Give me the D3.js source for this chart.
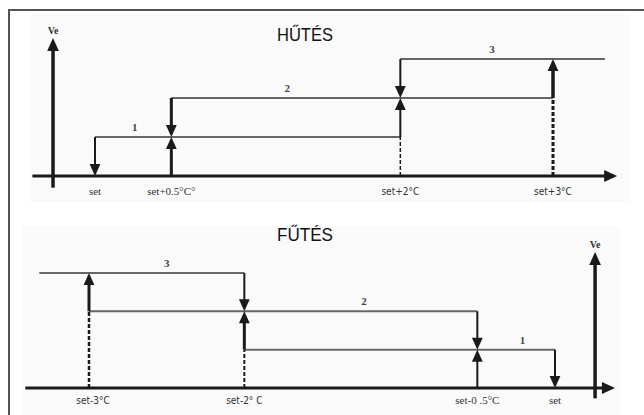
<!DOCTYPE html>
<html>
<head>
<meta charset="utf-8">
<script src="https://cdn.jsdelivr.net/npm/d3@7"></script>
<style>
  body { margin: 0; background: #fff; }
  .level { stroke: #666; stroke-width: 2; fill: none; }
  .axis-line { stroke: #1a1a1a; fill: none; }
  .arrow { stroke: #1a1a1a; fill: none; }
  .dash { stroke: #1a1a1a; stroke-dasharray: 4 2; fill: none; }
  .stage { font-family: "Liberation Serif", serif; font-weight: bold; font-size: 11px; fill: #444; text-anchor: middle; }
  .tick-serif { font-family: "Liberation Serif", serif; font-size: 11px; fill: #333; text-anchor: middle; }
  .tick-sans { font-family: "Liberation Sans Narrow", "DejaVu Sans Condensed", sans-serif; font-size: 10px; fill: #333; text-anchor: middle; }
  .ve { font-family: "Liberation Serif", serif; font-weight: bold; font-size: 10px; fill: #333; text-anchor: middle; }
  .title { font-family: "Liberation Sans Narrow", "Liberation Sans", sans-serif; font-size: 18px; fill: #111; text-anchor: middle; }
</style>
</head>
<body>
<div class="display"></div>
<script>
const WIDTH = 644;
const HEIGHT = 415;

// HŰTÉS (cooling): temperatures are offsets from set, in °C; levels are stage numbers
const coolTicks = [0, 0.5, 2, 3];
const coolTickLabels = ['set', 'set+0.5°C°', 'set+2°C', 'set+3°C'];
const coolTickSerif = [true, true, false, false];
const coolLevels = [
  { stage: 1, from: 0, to: 2, labelAt: 0.26 },
  { stage: 2, from: 0.5, to: 3, labelAt: 1.26 },
  { stage: 3, from: 2, to: 3.34, labelAt: 2.6 }
];
const coolArrows = [
  { x: 0, from: 1, to: 0, w: 2 },
  { x: 0.5, from: 0, to: 1, w: 3 },
  { x: 0.5, from: 2, to: 1, w: 3 },
  { x: 2, from: 1, to: 2, w: 2 },
  { x: 2, from: 3, to: 2, w: 2 },
  { x: 3, from: 2, to: 3, w: 3.5 }
];
const coolDashes = [
  { x: 2, from: 0, to: 1, w: 1.5 },
  { x: 3, from: 0, to: 2, w: 3 }
];
const coolAxisSpan = [-0.41, 3.42];
const coolVe = { x: -0.275, from: -0.3, to: 3.54 };

// FŰTÉS (heating)
const heatTicks = [-3, -2, -0.5, 0];
const heatTickLabels = ['set-3°C', 'set-2° C', 'set-0 .5°C', 'set'];
const heatTickSerif = [false, false, true, true];
const heatLevels = [
  { stage: 3, from: -3.32, to: -2, labelAt: -2.5 },
  { stage: 2, from: -3, to: -0.5, labelAt: -1.23 },
  { stage: 1, from: -2, to: 0, labelAt: -0.21 }
];
const heatArrows = [
  { x: -3, from: 2, to: 3, w: 3 },
  { x: -2, from: 3, to: 2, w: 2 },
  { x: -2, from: 1, to: 2, w: 3 },
  { x: -0.5, from: 2, to: 1, w: 2 },
  { x: -0.5, from: 0, to: 1, w: 2 },
  { x: 0, from: 1, to: 0, w: 2 }
];
const heatDashes = [
  { x: -3, from: 0, to: 2, w: 2.5 },
  { x: -2, from: 0, to: 1, w: 2 }
];
const heatAxisSpan = [-3.41, 0.386];
const heatVe = { x: 0.258, from: -0.27, to: 3.55 };

let svg;

function setupSvg() {
  svg = d3.select('.display')
    .append('svg')
    .attr('width', WIDTH)
    .attr('height', HEIGHT);

  // faint picture backgrounds
  svg.append('rect').attr('x', 30).attr('y', 13).attr('width', 600).attr('height', 190).attr('fill', '#fafafa');
  svg.append('rect').attr('x', 22).attr('y', 226).attr('width', 598).attr('height', 189).attr('fill', '#fafafa');

  // frame
  svg.append('path')
    .attr('d', 'M9,415V10H644')
    .attr('stroke', '#555')
    .attr('stroke-width', 2)
    .attr('fill', 'none');
}

// triangle head with its tip at (x, yTip); dir 1 points down, -1 points up
function head(g, x, yTip, dir, size) {
  const w = size * 0.45;
  g.append('path')
    .attr('d', `M${x},${yTip}L${x - w},${yTip - dir * size}L${x + w},${yTip - dir * size}Z`)
    .attr('fill', '#1a1a1a');
}

function drawPanel(opts) {
  const { x, y, ticks, labels, serif, levels, arrows, dashes, span, ve, title, titleY, labelY } = opts;
  const g = svg.append('g');

  // horizontal axis with arrow
  g.append('line').attr('class', 'axis-line')
    .attr('x1', x(span[0])).attr('x2', x(span[1]) - 8)
    .attr('y1', y(0)).attr('y2', y(0))
    .attr('stroke-width', 3);
  g.append('path')
    .attr('d', `M${x(span[1])},${y(0)}L${x(span[1]) - 13},${y(0) - 6}L${x(span[1]) - 13},${y(0) + 6}Z`)
    .attr('fill', '#1a1a1a');

  // Ve axis
  g.append('line').attr('class', 'axis-line')
    .attr('x1', x(ve.x)).attr('x2', x(ve.x))
    .attr('y1', y(ve.from)).attr('y2', y(ve.to) + 10)
    .attr('stroke-width', 3.5);
  head(g, x(ve.x), y(ve.to), -1, 13);
  g.append('text').attr('class', 've')
    .attr('x', x(ve.x)).attr('y', y(ve.to) - 4)
    .text('Ve');

  // stage levels
  g.selectAll('.level')
    .data(levels)
    .enter()
    .append('line')
    .attr('class', 'level')
    .attr('x1', d => x(d.from)).attr('x2', d => x(d.to))
    .attr('y1', d => y(d.stage)).attr('y2', d => y(d.stage));

  g.selectAll('.stage')
    .data(levels)
    .enter()
    .append('text')
    .attr('class', 'stage')
    .attr('x', d => x(d.labelAt))
    .attr('y', d => y(d.stage) - 6)
    .text(d => d.stage);

  // dashed guides
  g.selectAll('.dash')
    .data(dashes)
    .enter()
    .append('line')
    .attr('class', 'dash')
    .attr('x1', d => x(d.x)).attr('x2', d => x(d.x))
    .attr('y1', d => y(d.from)).attr('y2', d => y(d.to))
    .attr('stroke-width', d => d.w);

  // switching arrows
  arrows.forEach(d => {
    const y0 = y(d.from), y1 = y(d.to);
    const dir = y1 > y0 ? 1 : -1;
    const size = 12;
    g.append('line').attr('class', 'arrow')
      .attr('x1', x(d.x)).attr('x2', x(d.x))
      .attr('y1', y0).attr('y2', y1 - dir * (size - 2))
      .attr('stroke-width', d.w);
    head(g, x(d.x), y1, dir, size);
  });

  // tick labels
  g.selectAll('.tlabel')
    .data(ticks)
    .enter()
    .append('text')
    .attr('class', (d, i) => serif[i] ? 'tick-serif' : 'tick-sans')
    .attr('x', d => x(d))
    .attr('y', labelY)
    .attr('text-anchor', d => (d === -3 ? 'end' : 'middle'))
    .attr('dx', d => (d === -3 ? 4 : 0))
    .text((d, i) => labels[i]);

  g.append('text').attr('class', 'title')
    .attr('x', 305).attr('y', titleY)
    .attr('textLength', 56)
    .attr('lengthAdjust', 'spacingAndGlyphs')
    .text(title);
}

setupSvg();

drawPanel({
  x: d3.scaleLinear().domain([0, 3]).range([95, 553]),
  y: d3.scaleLinear().domain([0, 3]).range([176, 59]),
  ticks: coolTicks, labels: coolTickLabels, serif: coolTickSerif,
  levels: coolLevels, arrows: coolArrows, dashes: coolDashes,
  span: coolAxisSpan, ve: coolVe,
  title: 'HŰTÉS', titleY: 41, labelY: 195
});

drawPanel({
  x: d3.scaleLinear().domain([-3, 0]).range([89, 555]),
  y: d3.scaleLinear().domain([0, 3]).range([388, 273]),
  ticks: heatTicks, labels: heatTickLabels, serif: heatTickSerif,
  levels: heatLevels, arrows: heatArrows, dashes: heatDashes,
  span: heatAxisSpan, ve: heatVe,
  title: 'FŰTÉS', titleY: 241, labelY: 404
});
</script>
</body>
</html>
